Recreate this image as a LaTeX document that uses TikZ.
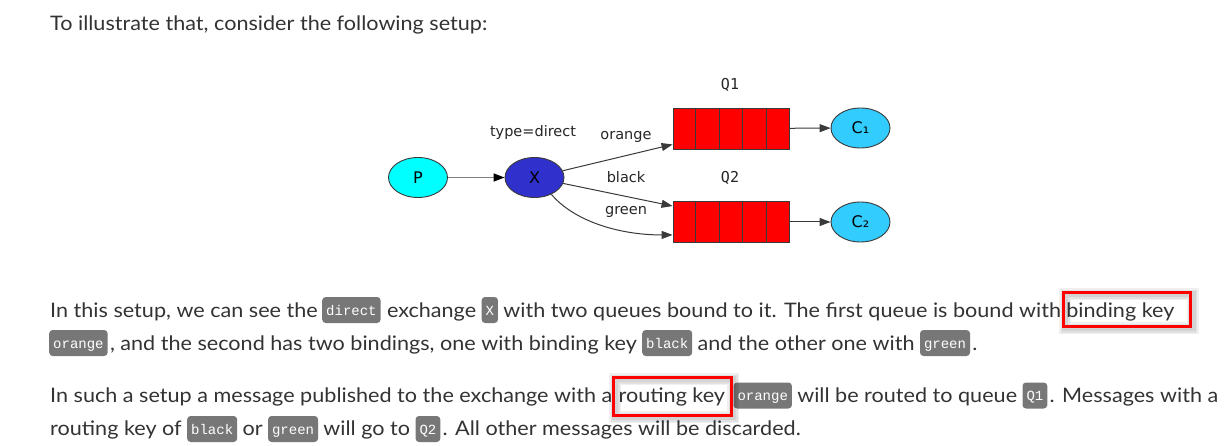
\documentclass[tikz,border=0pt]{standalone}
\usepackage{fontspec}
\setmainfont{Lato}
\newfontfamily\bodyfont{Lato}[FakeStretch=1.08]
\newfontfamily\diagfont{DejaVu Sans}
\newfontfamily\diagmono{DejaVu Sans Mono}
\newfontfamily\codefont{Liberation Mono}
\usetikzlibrary{shapes.geometric,arrows.meta,calc}

\definecolor{txt}{HTML}{333333}
\definecolor{codebg}{HTML}{777777}
\definecolor{pcol}{HTML}{00FFFF}
\definecolor{xcol}{HTML}{3030CC}
\definecolor{ccol}{HTML}{33CCFF}
\definecolor{qred}{HTML}{FF0000}
\definecolor{edgecol}{HTML}{3A3A3A}
\definecolor{hlred}{HTML}{FF0000}

\begin{document}
\begin{tikzpicture}[x=1pt,y=-1pt,
  body/.style={anchor=base west, inner sep=0pt, text=txt,
    font=\bodyfont\fontsize{20}{24}\selectfont},
  code/.style={anchor=west, fill=codebg, rounded corners=3.5pt, text=white,
    inner xsep=4pt, inner ysep=0pt, minimum height=26pt, text height=10pt, text depth=0pt,
    font=\codefont\fontsize{14}{16}\selectfont},
  hlbox/.style={draw=hlred, line width=3pt},
  shadowbox/.style={draw=black, opacity=0.06},
  ell/.style={ellipse, draw=edgecol, line width=0.9pt, minimum width=59pt,
    minimum height=40pt, inner sep=0pt, font=\diagfont\fontsize{16}{18}\selectfont},
  lbl/.style={inner sep=0pt, text=black!85, font=\diagfont\fontsize{14.5}{16}\selectfont},
  qlbl/.style={inner sep=0pt, text=black!85, font=\diagmono\fontsize{15}{16}\selectfont},
  queuebox/.style={draw=edgecol, fill=qred, line width=0.9pt, minimum width=116pt,
    minimum height=41pt, inner sep=0pt},
  arr/.style={draw=edgecol, line width=1pt, -{Triangle[length=11pt,width=8pt]}},
  arrp/.style={draw=gray, line width=1.6pt, -{Triangle[length=11pt,width=8pt,fill=black,color=black]}}
]
\useasboundingbox (0,0) rectangle (1225,446);
\fill[white] (0,0) rectangle (1225,446);

% baselines and box centres
\coordinate (b0) at (0,31);
\coordinate (b1) at (0,317);   \coordinate (m1) at (0,310);
\coordinate (b2) at (0,350);   \coordinate (m2) at (0,343);
\coordinate (b3) at (0,402);   \coordinate (m3) at (0,395.5);
\coordinate (b4) at (0,435);   \coordinate (m4) at (0,429);

% ---- first line
\node[body] (t0) at (50,31) {To illustrate that, consider the following setup:};

% ---- diagram
\node[ell, fill=pcol] (p) at (418,177.5) {P};
\node[ell, fill=xcol, minimum width=59pt] (x) at (534.5,177.5) {X};
\node[lbl] (type) at (533,133) {type=direct};
\node[queuebox] (q1) at (731,128.5) {};
\node[queuebox] (q2) at (731,222) {};
\foreach \q in {q1,q2}{
  \foreach \k in {1,2,3,4}{
    \draw[edgecol, line width=0.9pt] ($(\q.north west)!\k/5!(\q.north east)$) -- ($(\q.south west)!\k/5!(\q.south east)$);
  }
}
\node[qlbl] (q1l) at (730,85) {Q1};
\node[qlbl] (q2l) at (730,178) {Q2};
\node[ell, fill=ccol] (c1) at (860.5,128) {C₁};
\node[ell, fill=ccol] (c2) at (860.5,222) {C₂};
\node[lbl] (lo) at (626,137) {orange};
\node[lbl] (lb) at (626,177) {black};
\node[lbl] (lg) at (626,212) {green};

\draw[arrp] (p) -- (x);
\draw[arr] (x) -- ([yshift=5pt]q1.south west);
\draw[arr] (x) -- ([yshift=-5pt]q2.north west);
\draw[arr] (x.-45) .. controls +(22,26) and +(-55,0) .. ([yshift=8pt]q2.south west);
\draw[arr] (q1) -- (c1);
\draw[arr] (q2) -- (c2);

% ---- paragraph 2, line 1
\node[body] (t21) at (50,317) {In this setup, we can see the};
\node[code] (c21) at ([xshift=4pt]t21.east |- m1) {direct};
\node[body] (t22) at ([xshift=6pt]c21.east |- b1) {exchange};
\node[code] (c22) at ([xshift=5pt]t22.east |- m1) {X};
\node[body] (t23) at ([xshift=5pt]c22.east |- b1) {with two queues bound to it. The first queue is bound with};
\node[body] (bk) at ([xshift=5pt]t23.east |- b1) {binding key};

% ---- paragraph 2, line 2
\node[code] (c23) at (49,343) {orange};
\node[body] (t25) at ([xshift=2pt]c23.east |- b2) {, and the second has two bindings, one with binding key};
\node[code] (c24) at ([xshift=5pt]t25.east |- m2) {black};
\node[body] (t26) at ([xshift=5pt]c24.east |- b2) {and the other one with};
\node[code] (c25) at ([xshift=5pt]t26.east |- m2) {green};
\node[body] (t27) at ([xshift=2pt]c25.east |- b2) {.};

% ---- paragraph 3, line 1
\node[body] (t31) at (50,402) {In such a setup a message published to the exchange with a};
\node[body] (rk) at ([xshift=6pt]t31.east |- b3) {routing key};
\node[code] (c31) at ([xshift=8pt]rk.east |- m3) {orange};
\node[body] (t33) at ([xshift=5pt]c31.east |- b3) {will be routed to queue};
\node[code] (c32) at ([xshift=5pt]t33.east |- m3) {Q1};
\node[body] (t34) at ([xshift=2pt]c32.east |- b3) {. Messages with a};

% ---- paragraph 3, line 2
\node[body] (t35) at (50,435) {routing key of};
\node[code] (c33) at ([xshift=5pt]t35.east |- m4) {black};
\node[body] (t36) at ([xshift=5pt]c33.east |- b4) {or};
\node[code] (c34) at ([xshift=5pt]t36.east |- m4) {green};
\node[body] (t37) at ([xshift=5pt]c34.east |- b4) {will go to};
\node[code] (c35) at ([xshift=5pt]t37.east |- m4) {Q2};
\node[body] (t38) at ([xshift=2pt]c35.east |- b4) {. All other messages will be discarded.};

% ---- red highlight boxes with soft shadow
\foreach \w in {12,9,6}{
  \draw[shadowbox, line width=\w pt] let \p1=(bk.west), \p2=(bk.east) in
    (\x1-1pt,-294pt) rectangle (\x2+18pt,-328pt);
  \draw[shadowbox, line width=\w pt] let \p1=(rk.west), \p2=(rk.east) in
    (\x1-3pt,-379pt) rectangle (\x2+8pt,-417pt);
}
\draw[hlbox] let \p1=(bk.west), \p2=(bk.east) in
  (\x1-3pt,-292pt) rectangle (\x2+16pt,-326pt);
\draw[hlbox] let \p1=(rk.west), \p2=(rk.east) in
  (\x1-5pt,-377pt) rectangle (\x2+6pt,-415pt);
\end{tikzpicture}
\end{document}
